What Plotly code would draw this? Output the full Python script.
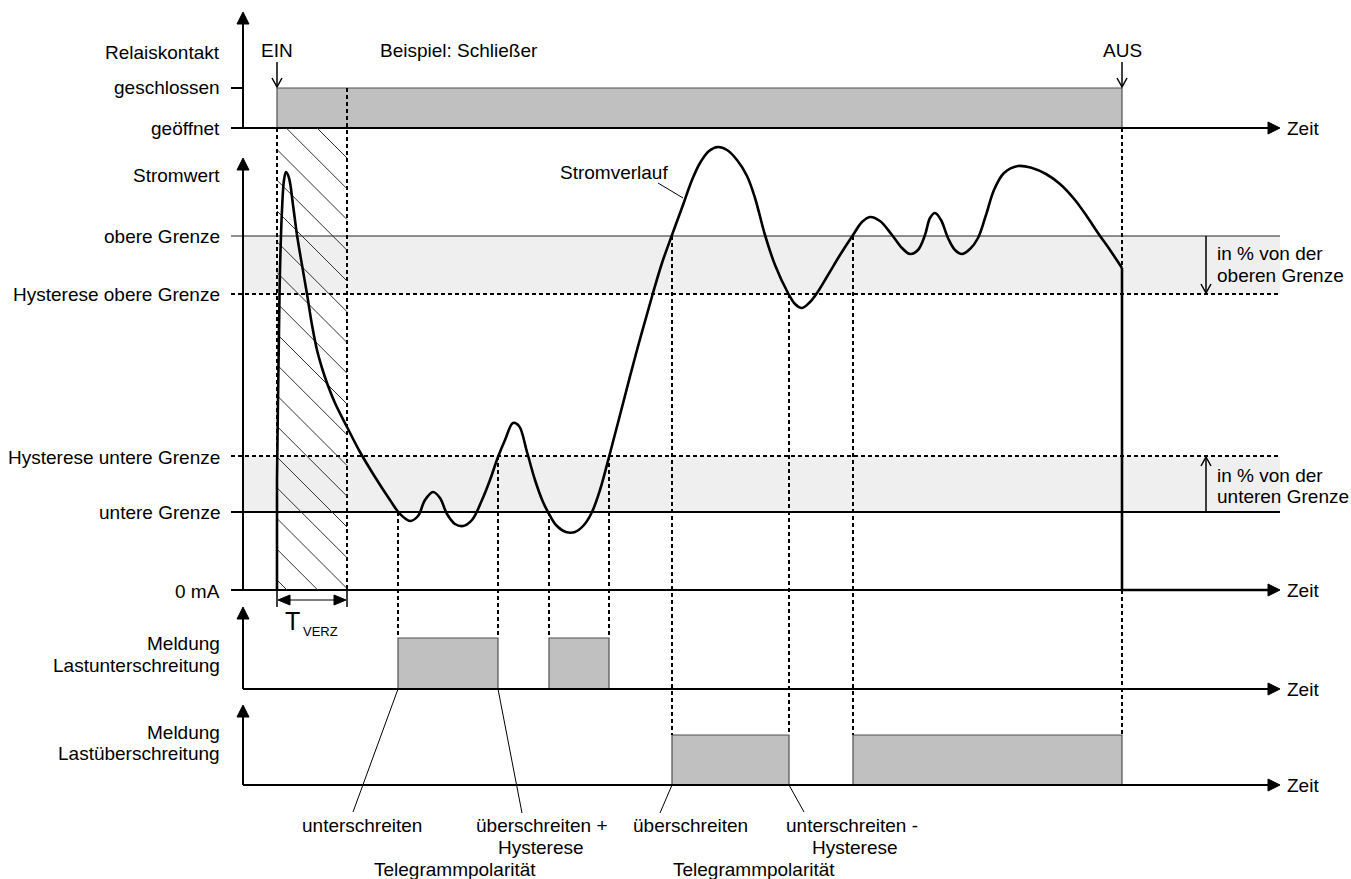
import plotly.graph_objects as go

FONT = "Arial, Liberation Sans, sans-serif"
FS = 19

# ---- diagram geometry (time axis left -> right, value axis top -> bottom) ----
axis_x = 243
label_x = 222
tick_x0 = 231
time_end = 1280
arrow_len = 12

# relay contact
relay_closed = 88
relay_open = 128
t_ein = 277
t_aus = 1122
t_verz = 347

# current levels
i_zero = 590
i_upper = 236
i_upper_hyst = 294
i_lower_hyst = 456
i_lower = 512

# message panels
under_base, under_top = 689, 638
over_base, over_top = 785, 735
under_on = [398, 549]
under_off = [498, 609]
over_on = [672, 853]
over_off = [789, 1122]

# current curve (Stromverlauf)
curve_t = [277, 277, 278, 279, 280, 282, 284, 286, 289, 293,
           297, 302, 307, 312, 317, 322, 327, 335, 347, 360,
           375, 390, 400, 410, 418, 425, 433, 440, 447, 455,
           463, 472, 482, 490, 498, 505, 513, 519, 527, 535,
           543, 548, 556, 566, 575, 584, 592, 600, 609, 620,
           637, 653, 662, 672, 683, 692, 700, 709, 718, 727,
           737, 747, 755, 765, 775, 788, 795, 802, 810, 817,
           828, 840, 853, 862, 870, 880, 892, 902, 910, 918,
           925, 930, 935, 941, 948, 955, 962, 970, 978, 986,
           994, 1004, 1018, 1032, 1046, 1060, 1075, 1088, 1098, 1110, 1122]
curve_i = [590, 480, 400, 330, 270, 210, 180, 172, 178, 205,
           235, 265, 294, 325, 350, 368, 383, 403, 427, 452,
           477, 500, 514, 521, 516, 500, 492, 498, 514, 524,
           526, 520, 500, 480, 457, 440, 423, 426, 452, 480,
           502, 512, 525, 532, 532, 525, 512, 490, 457, 415,
           350, 293, 263, 235, 205, 180, 163, 151, 147, 150,
           160, 176, 198, 235, 265, 293, 304, 308, 302, 293,
           275, 255, 235, 222, 217, 221, 235, 248, 254, 250,
           235, 218, 213, 220, 238, 250, 254, 249, 238, 215,
           190, 173, 166, 168, 174, 184, 200, 218, 233, 250, 268]

# labels on the left of the value axes
left_labels = ["Relaiskontakt", "geschlossen", "geöffnet", "Stromwert", "obere Grenze",
               "Hysterese obere Grenze", "Hysterese untere Grenze", "untere Grenze", "0 mA",
               "Meldung", "Lastunterschreitung", "Meldung", "Lastüberschreitung"]
left_label_y = [52, 87, 128, 175, 236, 294, 457, 512, 591, 643, 665, 732, 753]

# dashed helper lines: (t, from, to)
dashed_t = [t_ein, t_verz, 398, 498, 549, 609, 672, 789, 853, t_aus]
dashed_from = [relay_open, relay_closed, i_lower, i_lower_hyst, i_lower, i_lower_hyst,
               i_upper, i_upper_hyst, i_upper, relay_open]
dashed_to = [i_zero, i_zero, under_top, under_top, under_top, under_top,
             over_top, over_top, over_top, over_top]

# bottom captions
cap_text = ["unterschreiten", "überschreiten +", "Hysterese", "Telegrammpolarität",
            "überschreiten", "unterschreiten -", "Hysterese", "Telegrammpolarität"]
cap_x = [362, 542, 541, 455, 690, 852, 855, 754]
cap_y = [825, 825, 847, 869, 825, 825, 847, 869]
leader_x0 = [398, 498, 672, 789]
leader_y0 = [under_base, under_base, over_base, over_base]
leader_x1 = [353, 522, 660, 804]
leader_y1 = [812, 813, 813, 812]

hatch_step = 30.75
hatch_first = 189

shapes = []
annots = []


def line(x0, y0, x1, y1, w=2, color="black", dash=None):
    d = dict(type="line", x0=x0, y0=y0, x1=x1, y1=y1, xref="x", yref="y",
             line=dict(color=color, width=w), layer="below")
    if dash:
        d["line"]["dash"] = dash
    shapes.append(d)


def tri(tx, ty, direction, length=12, half=6, color="black"):
    if direction == "up":
        pts = [(tx, ty), (tx - half, ty + length), (tx + half, ty + length)]
    elif direction == "right":
        pts = [(tx, ty), (tx - length, ty - half), (tx - length, ty + half)]
    else:
        pts = [(tx, ty), (tx + length, ty - half), (tx + length, ty + half)]
    path = "M " + " L ".join(f"{x},{y}" for x, y in pts) + " Z"
    shapes.append(dict(type="path", path=path, xref="x", yref="y", fillcolor=color,
                       line=dict(color=color, width=1), layer="below"))


def open_arrow(tx, ty, down=True, color="black"):
    s = -1 if down else 1
    path = f"M {tx-5},{ty+9*s} L {tx},{ty} L {tx+5},{ty+9*s}"
    shapes.append(dict(type="path", path=path, xref="x", yref="y",
                       line=dict(color=color, width=1.5), layer="below"))


def text(x, y, s, anchor="right", size=FS, color="black"):
    annots.append(dict(x=x, y=y, xref="x", yref="y", text=s, showarrow=False,
                       xanchor=anchor, yanchor="middle",
                       font=dict(family=FONT, size=size, color=color)))


# grey tolerance bands
for a, b in [(i_upper, i_upper_hyst), (i_lower_hyst, i_lower)]:
    shapes.append(dict(type="rect", x0=axis_x, x1=time_end, y0=a, y1=b, xref="x", yref="y",
                       fillcolor="#efefef", line=dict(width=0), layer="below"))

# relay "closed" bar and message bars
bars = [(t_ein, t_aus, relay_closed, relay_open)]
bars += [(a, b, under_top, under_base) for a, b in zip(under_on, under_off)]
bars += [(a, b, over_top, over_base) for a, b in zip(over_on, over_off)]
for a, b, top, base in bars:
    shapes.append(dict(type="rect", x0=a, x1=b, y0=top, y1=base, xref="x", yref="y",
                       fillcolor="#c0c0c0", line=dict(color="#505050", width=1.2), layer="below"))

# limit lines
line(tick_x0, i_upper, time_end, i_upper, w=1, color="#222")
line(tick_x0, i_upper_hyst, time_end, i_upper_hyst, w=2, dash="4px,3px")
line(tick_x0, i_lower_hyst, time_end, i_lower_hyst, w=2, dash="4px,3px")
line(tick_x0, i_lower, time_end, i_lower, w=2)

# dashed verticals
for t, a, b in zip(dashed_t, dashed_from, dashed_to):
    line(t, a, t, b, w=2, dash="4px,3px")

# value axes with arrowheads
v_tops = [12, 158, 607, 705]
v_bottoms = [relay_open, i_zero, under_base, over_base]
for top, bot in zip(v_tops, v_bottoms):
    line(axis_x, top + arrow_len, axis_x, bot, w=2)
    tri(axis_x, top, "up")

# time axes
h_y = [relay_open, i_zero, under_base, over_base]
h_start = [tick_x0, tick_x0, axis_x, axis_x]
for y, x0 in zip(h_y, h_start):
    line(x0, y, time_end - arrow_len, y, w=2)
    tri(time_end, y, "right")
    text(time_end + 5, y, "Zeit", anchor="left")
line(tick_x0, relay_closed, axis_x, relay_closed, w=2)

# EIN / AUS markers
for t, s in [(t_ein, "EIN"), (t_aus, "AUS")]:
    line(t, 62, t, relay_closed - 1, w=1.5)
    open_arrow(t, relay_closed - 1, down=True)
    text(t, 50, s, anchor="center")
text(378, 50, "Beispiel: Schließer", anchor="left")

# percentage arrows on the right
pct_x = 1206
line(pct_x, i_upper, pct_x, i_upper_hyst - 1, w=1.5)
open_arrow(pct_x, i_upper_hyst - 1, down=True)
line(pct_x, i_lower, pct_x, i_lower_hyst + 1, w=1.5)
open_arrow(pct_x, i_lower_hyst + 1, down=False)
text(1215, 253, "in % von der", anchor="left")
text(1215, 275, "oberen Grenze", anchor="left")
text(1215, 475, "in % von der", anchor="left")
text(1215, 496, "unteren Grenze", anchor="left")

# T_VERZ dimension
line(t_ein, i_zero, t_ein, 607, w=1.5)
line(t_verz, i_zero, t_verz, 607, w=1.5)
line(t_ein + 10, 600, t_verz - 10, 600, w=1.5, color="#555")
tri(t_ein + 1, 600, "left", length=12, half=5)
tri(t_verz - 1, 600, "right", length=12, half=5)
text(292, 621, "T", anchor="center", size=25)
text(301, 631, "VERZ", anchor="left", size=13)

# leader lines
line(658, 183, 683, 198, w=1)
text(558, 172, "Stromverlauf", anchor="left")
for x0, y0, x1, y1 in zip(leader_x0, leader_y0, leader_x1, leader_y1):
    line(x0, y0, x1, y1, w=1)
for x, y, s in zip(cap_x, cap_y, cap_text):
    text(x, y, s, anchor="center")

for s, y in zip(left_labels, left_label_y):
    text(label_x, y, s, anchor="right")

# hatched delay zone
hx, hy = [], []
c = hatch_first
while c + i_zero >= t_ein:
    xa = max(t_ein, c + relay_open)
    xb = min(t_verz, c + i_zero)
    if xb > xa:
        hx += [xa, xb, None]
        hy += [xa - c, xb - c, None]
    c -= hatch_step

fig = go.Figure()
fig.add_trace(go.Scatter(x=hx, y=hy, mode="lines", line=dict(color="#333", width=1),
                         hoverinfo="skip"))
fig.add_trace(go.Scatter(x=curve_t, y=curve_i, mode="lines",
                         line=dict(color="black", width=2.6, shape="spline", smoothing=1.0),
                         hoverinfo="skip"))
fig.add_trace(go.Scatter(x=[t_aus, t_aus, time_end - arrow_len], y=[curve_i[-1], i_zero, i_zero],
                         mode="lines", line=dict(color="black", width=2.6), hoverinfo="skip"))

fig.update_layout(
    width=1351, height=879, autosize=False,
    margin=dict(l=0, r=0, t=0, b=0),
    paper_bgcolor="white", plot_bgcolor="white",
    showlegend=False,
    xaxis=dict(range=[0, 1351], visible=False, fixedrange=True),
    yaxis=dict(range=[879, 0], visible=False, fixedrange=True),
    shapes=shapes, annotations=annots,
    font=dict(family=FONT, size=FS, color="black"),
)

fig.write_html("out.html", config={"displayModeBar": False},
               post_script="document.body.style.margin='0';document.body.style.overflow='hidden';")
